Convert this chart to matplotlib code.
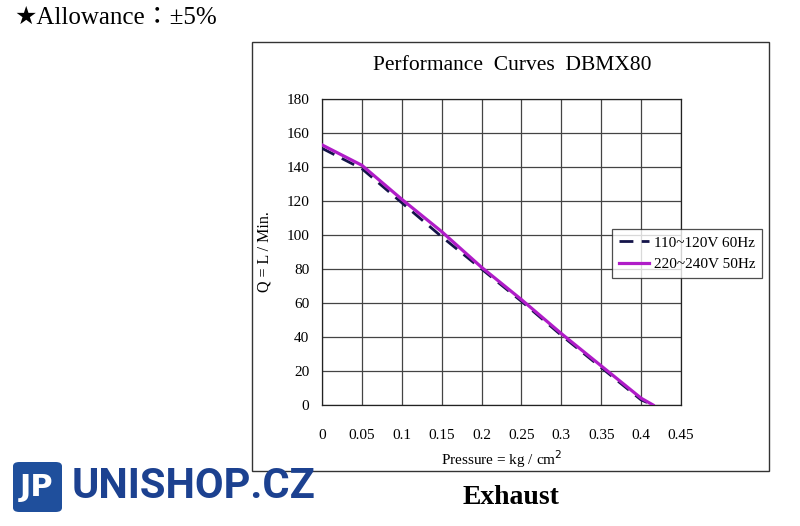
import matplotlib
matplotlib.use("Agg")
import matplotlib.pyplot as plt
from matplotlib.patches import Rectangle, FancyBboxPatch

# Performance curves DBMX80 (exhaust)
pressure = [0, 0.05, 0.1, 0.15, 0.2, 0.25, 0.3, 0.35, 0.4, 0.415]
flow_60hz = [151, 139, 119, 99, 80, 61, 41, 22, 3, 0]
flow_50hz = [153, 141, 121, 102, 81, 62, 42, 23, 4, 0]

nomes = ["110~120V 60Hz", "220~240V 50Hz"]
CORES = ["#14144a", "#b01cc8"]

x_ticks = [0, 0.05, 0.1, 0.15, 0.2, 0.25, 0.3, 0.35, 0.4, 0.45]
x_labels = ["0", "0.05", "0.1", "0.15", "0.2", "0.25", "0.3", "0.35", "0.4", "0.45"]
y_ticks = list(range(0, 181, 20))

SERIF = ["Liberation Serif", "DejaVu Serif"]
plt.rcParams["font.family"] = SERIF

fig = plt.figure(figsize=(8.0, 5.26), dpi=100)
ax = fig.add_axes([322 / 800, 1 - 405 / 526, 359 / 800, 306 / 526])

ax.plot(pressure, flow_60hz, c=CORES[0], linewidth=2.0,
        linestyle=(0, (5, 3)), label=nomes[0], zorder=3)
ax.plot(pressure, flow_50hz, c=CORES[1], linewidth=2.3,
        label=nomes[1], zorder=4)

ax.set_xlim(0, 0.45)
ax.set_ylim(0, 180)
ax.set_xticks(x_ticks)
ax.set_xticklabels(x_labels)
ax.set_yticks(y_ticks)
ax.tick_params(length=0, labelsize=11)
ax.tick_params(axis="x", pad=17)
ax.tick_params(axis="y", pad=9)
ax.grid(True, color="#444444", linewidth=0.9)
for s in ax.spines.values():
    s.set_color("#222222")
    s.set_linewidth(0.9)

ax.set_xlabel("Pressure = kg / cm$^2$", fontsize=11, labelpad=5)
ax.set_ylabel("Q = L / Min.", fontsize=11.5, labelpad=10)

leg = fig.legend(loc="upper left", bbox_to_anchor=(612 / 800, 1 - 229 / 526),
                 borderaxespad=0, fontsize=11, frameon=True, fancybox=False,
                 handlelength=2.0, handletextpad=0.3, borderpad=0.45,
                 labelspacing=0.5)
leg.get_frame().set_edgecolor("#222222")
leg.get_frame().set_linewidth(0.9)

# outer chart box
fig.patches.append(Rectangle((252 / 800, 1 - 471 / 526), 517 / 800, 429 / 526,
                             transform=fig.transFigure, fill=False,
                             edgecolor="#333333", linewidth=1.0))

fig.text(512 / 800, 1 - 65 / 526, "Performance  Curves  DBMX80",
         fontsize=15.5, ha="center", va="center")
fig.text(14 / 800, 1 - 18 / 526, "★Allowance：±5%", fontsize=18,
         ha="left", va="center",
         family=["Liberation Serif", "DejaVu Sans", "Noto Sans CJK JP"])
fig.text(511 / 800, 1 - 498 / 526, "Exhaust", fontsize=20, fontweight="bold",
         ha="center", va="center")

# watermark logo
fig.patches.append(FancyBboxPatch((13 / 800, 1 - 512 / 526), 49 / 800, 50 / 526,
                                  boxstyle="round,pad=0,rounding_size=0.008",
                                  transform=fig.transFigure,
                                  facecolor="#1f4f9c", edgecolor="none"))
fig.text(37 / 800, 1 - 487 / 526, "JP", fontsize=22, fontweight="bold",
         color="white", ha="center", va="center", family="DejaVu Sans")
fig.text(72 / 800, 1 - 486 / 526, "UNISHOP.CZ", fontsize=30, fontweight="bold",
         color="#1c4190", ha="left", va="center", family="Roboto")

plt.savefig("out.png", dpi=100)
plt.close()
